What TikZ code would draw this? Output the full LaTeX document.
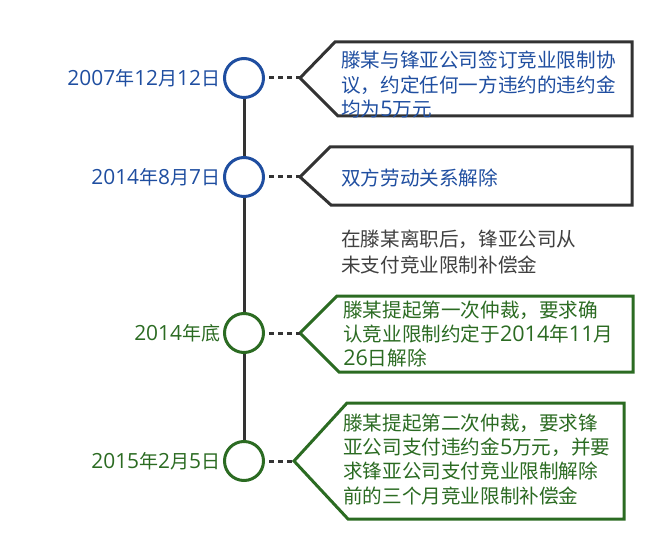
\documentclass[tikz,border=0pt]{standalone}
\usepackage{fontspec}
\setmainfont{Noto Sans CJK SC}
\newfontfamily\latin{Open Sans}[Scale=1.1]
\usetikzlibrary{positioning}
\definecolor{tlblue}{RGB}{31,78,160}
\definecolor{tlgreen}{RGB}{43,107,34}
\definecolor{tlgray}{RGB}{51,51,51}
\definecolor{notegray}{RGB}{64,64,64}
\newcommand{\dg}[1]{{\latin #1}}
\tikzset{
  dot/.style={circle, draw, line width=2.25pt, fill=white, minimum size=29.25pt, inner sep=0pt},
  datelabel/.style={inner sep=0pt, font=\fontsize{14.25}{17}\selectfont},
  boxtext/.style={anchor=north west, align=left, inner sep=0pt, font=\fontsize{14.7}{18.2}\selectfont},
  spine/.style={tlgray, line width=2.25pt},
  link/.style={tlgray, line width=2.25pt, dash pattern=on 3.75pt off 3pt, shorten <=3pt},
  callout/.style={line width=2.25pt, line join=miter}
}
\begin{document}
\begin{tikzpicture}[x=0.75pt, y=-0.75pt]
\useasboundingbox (0,0) rectangle (672,560);
\node[dot, draw=tlblue] (c1) at (244,78) {};
\node[dot, draw=tlblue] (c2) at (244,177) {};
\node[dot, draw=tlgreen] (c3) at (244,333) {};
\node[dot, draw=tlgreen] (c4) at (244,461) {};
\foreach \a/\b in {c1/c2, c2/c3, c3/c4}
  \draw[spine] (\a) -- (\b);
\node[datelabel, text=tlblue, left=2pt of c1] (d1) {\dg{2007}年\dg{12}月\dg{12}日};
\node[datelabel, text=tlblue, left=2pt of c2] (d2) {\dg{2014}年\dg{8}月\dg{7}日};
\node[datelabel, text=tlgreen, left=2pt of c3] (d3) {\dg{2014}年底};
\node[datelabel, text=tlgreen, left=2pt of c4] (d4) {\dg{2015}年\dg{2}月\dg{5}日};
\coordinate (t1) at (300,78);
\coordinate (t2) at (300,177);
\coordinate (t3) at (300,333);
\coordinate (t4) at (294,461);
\draw[callout, tlgray] (t1) -- (335,42) -- (632,42) -- (632,116) -- (338,116) -- cycle;
\draw[callout, tlgray] (t2) -- (330,147) -- (632,147) -- (632,205) -- (331,205) -- cycle;
\draw[callout, tlgreen] (t3) -- (337,296) -- (633,296) -- (633,372) -- (339,372) -- cycle;
\draw[callout, tlgreen] (t4) -- (347,403) -- (624,403) -- (624,519) -- (348,519) -- cycle;
\foreach \i in {1,...,4}
  \draw[link] (c\i) -- (t\i);
\node[boxtext, text=tlblue] (n1) at (341,51) {滕某与锋亚公司签订竞业限制协\\议，约定任何一方违约的违约金\\均为\dg{5}万元};
\node[boxtext, text=tlblue, anchor=west] (n2) at (341,178) {双方劳动关系解除};
\node[boxtext, text=notegray, font=\fontsize{14.7}{19.5}\selectfont] (n0) at (341,229.5) {在滕某离职后，锋亚公司从\\未支付竞业限制补偿金};
\node[boxtext, text=tlgreen] (n3) at (343,300.5) {滕某提起第一次仲裁，要求确\\认竞业限制约定于\dg{2014}年\dg{11}月\\\dg{26}日解除};
\node[boxtext, text=tlgreen] (n4) at (343,413.5) {滕某提起第二次仲裁，要求锋\\亚公司支付违约金\dg{5}万元，并要\\求锋亚公司支付竞业限制解除\\前的三个月竞业限制补偿金};
\end{tikzpicture}
\end{document}
